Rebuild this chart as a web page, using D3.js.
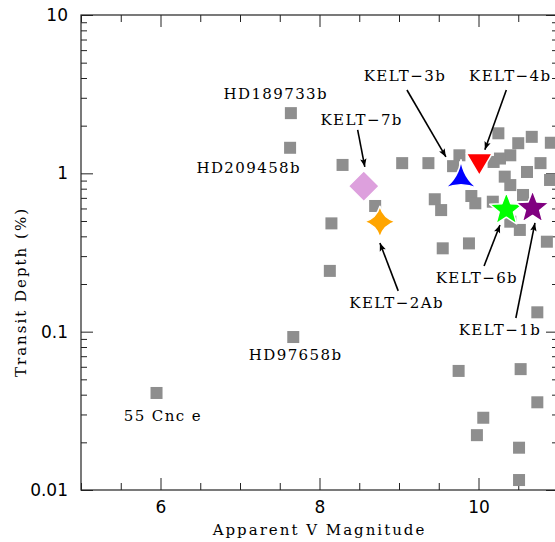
<!DOCTYPE html>
<html lang="en">
<head>
    <meta charset="UTF-8">
    <title>Transit depth vs V magnitude</title>
    <style>
        body { margin: 0; background: #fff; }
        .lbl { font-family: "DejaVu Serif", serif; font-size: 15px; letter-spacing: 1.4px; fill: #000; }
        .tick text { font-family: "DejaVu Sans", sans-serif; font-size: 17px; fill: #000; }
    </style>
</head>
<body>
    <div id="chart"></div>

    <script src="https://d3js.org/d3.v7.min.js"></script>
    <script>
        // other known transiting planets (grey squares)
        var magV  = [5.95, 7.67, 7.64, 7.63, 8.29, 8.15, 8.13, 8.70, 9.04, 9.37, 9.76, 9.68,
                     9.45, 9.53, 9.91, 9.96, 9.55, 9.88, 10.25, 10.50, 10.67, 10.91, 10.40, 10.27,
                     10.19, 10.78, 10.61, 10.33, 10.40, 10.56, 10.52, 10.40, 10.86, 10.18, 10.90,
                     10.74, 9.75, 10.53, 10.74, 10.06, 9.98, 10.51, 10.51];
        var depth = [0.041, 0.0925, 2.40, 1.45, 1.13, 0.483, 0.242, 0.622, 1.16, 1.16, 1.30, 1.11,
                     0.686, 0.586, 0.719, 0.647, 0.336, 0.361, 1.79, 1.55, 1.70, 1.56, 1.30, 1.24,
                     1.18, 1.16, 1.02, 0.953, 0.843, 0.73, 0.439, 0.495, 0.37, 0.662, 0.908,
                     0.1325, 0.0565, 0.058, 0.0358, 0.0286, 0.0222, 0.0185, 0.01156];

        // KELT planets
        var keltNames  = ["KELT-7b", "KELT-2Ab", "KELT-3b", "KELT-4b", "KELT-6b", "KELT-1b"];
        var keltMag    = [8.557, 8.76, 9.78, 10.01, 10.35, 10.68];
        var keltDepth  = [0.830, 0.495, 0.925, 1.138, 0.589, 0.604];
        var keltColors = ["#dda0dd", "#ffa500", "#0000ff", "#ff0000", "#00ff00", "#800080"];
        var keltShapes = ["diamond", "star4", "star3", "triDown", "star5", "star5"];

        // label text positions (data coords) and arrow tails/heads
        var labelMag   = [8.53, 8.97, 9.075, 10.40, 9.98, 10.27];
        var labelDepth = [2.17, 0.152, 4.12, 4.12, 0.218, 0.1023];
        var arrowFrom  = [[8.48, 1.88], [8.99, 0.181], [9.10, 3.36], [10.35, 3.36], [10.07, 0.26], [10.47, 0.122]];
        var arrowTo    = [[8.57, 1.10], [8.76, 0.363], [9.59, 1.27], [10.08, 1.41], [10.27, 0.472], [10.71, 0.486]];

        // plain text labels
        var otherNames = ["HD189733b", "HD209458b", "HD97658b", "55 Cnc e"];
        var otherMag   = [7.45, 7.11, 7.70, 6.03];
        var otherDepth = [3.17, 1.08, 0.0713, 0.0293];

        var xTicks = [6, 8, 10];
        var yTicks = [0.01, 0.1, 1, 10];

        var margin = { top: 15, left: 81 };
        var width = 477, height = 475;

        var x = d3.scaleLinear().domain([5, 11]).range([0, width]);
        var y = d3.scaleLog().domain([0.01, 10]).range([height, 0]);

        var svg = d3.select("#chart").append("svg")
            .attr("width", 555)
            .attr("height", 542);

        var g = svg.append("g")
            .attr("transform", "translate(" + margin.left + "," + margin.top + ")");

        // minor ticks
        var xMinor = d3.range(5, 11.01, 0.5).filter(function(d){ return d % 2 !== 0; });
        var yMinor = [];
        [0.01, 0.1, 1].forEach(function(p){
            for (var k = 2; k <= 9; k++) yMinor.push(p * k);
        });

        function styleAxis(sel) {
            sel.select(".domain").remove();
            sel.selectAll("line").style("stroke", "#222").style("stroke-width", 1);
        }

        // bottom
        g.append("g").attr("transform", "translate(0," + height + ")")
            .call(d3.axisBottom(x).tickValues(xTicks).tickFormat(d3.format("d")).tickSizeInner(-12).tickSizeOuter(0).tickPadding(11))
            .call(styleAxis);
        g.append("g").attr("transform", "translate(0," + height + ")")
            .call(d3.axisBottom(x).tickValues(xMinor).tickFormat("").tickSizeInner(-7).tickSizeOuter(0))
            .call(styleAxis);
        // top
        g.append("g")
            .call(d3.axisTop(x).tickValues(xTicks).tickFormat("").tickSizeInner(-12).tickSizeOuter(0))
            .call(styleAxis);
        g.append("g")
            .call(d3.axisTop(x).tickValues(xMinor).tickFormat("").tickSizeInner(-7).tickSizeOuter(0))
            .call(styleAxis);
        // left
        g.append("g")
            .call(d3.axisLeft(y).tickValues(yTicks).tickFormat(function(d){ return d >= 1 ? d3.format("d")(d) : String(d); })
                .tickSizeInner(-12).tickSizeOuter(0).tickPadding(13))
            .call(styleAxis);
        g.append("g")
            .call(d3.axisLeft(y).tickValues(yMinor).tickFormat("").tickSizeInner(-6).tickSizeOuter(0))
            .call(styleAxis);
        // right
        g.append("g").attr("transform", "translate(" + width + ",0)")
            .call(d3.axisRight(y).tickValues(yTicks).tickFormat("").tickSizeInner(-12).tickSizeOuter(0))
            .call(styleAxis);
        g.append("g").attr("transform", "translate(" + width + ",0)")
            .call(d3.axisRight(y).tickValues(yMinor).tickFormat("").tickSizeInner(-6).tickSizeOuter(0))
            .call(styleAxis);

        // frame
        g.append("rect")
            .attr("width", width).attr("height", height)
            .style("fill", "none").style("stroke", "#222").style("stroke-width", 1.2);

        // grey squares
        var sq = 12;
        g.selectAll("rect.pl")
            .data(d3.range(magV.length))
            .enter()
            .append("rect")
                .attr("class", "pl")
                .attr("x", function(i){ return x(magV[i]) - sq / 2; })
                .attr("y", function(i){ return y(depth[i]) - sq / 2; })
                .attr("width", sq).attr("height", sq)
                .style("fill", "#8e8e8e");

        // marker paths
        function starPath(n, rOut, rIn, rot) {
            var pts = [];
            for (var k = 0; k < 2 * n; k++) {
                var a = rot + k * Math.PI / n;
                var r = k % 2 === 0 ? rOut : rIn;
                pts.push([r * Math.cos(a), r * Math.sin(a)]);
            }
            return "M" + pts.join("L") + "Z";
        }
        // star with curved (concave) sides
        function curvedStar(n, rOut, rCtl, rot) {
            var p = "";
            for (var k = 0; k < n; k++) {
                var a = rot + k * 2 * Math.PI / n;
                var b = a + Math.PI / n;
                var c = a + 2 * Math.PI / n;
                if (k === 0) p += "M" + rOut * Math.cos(a) + "," + rOut * Math.sin(a);
                p += "Q" + rCtl * Math.cos(b) + "," + rCtl * Math.sin(b) + " " + rOut * Math.cos(c) + "," + rOut * Math.sin(c);
            }
            return p + "Z";
        }
        var shapes = {
            diamond: "M0,-15.5L15.5,0L0,15.5L-15.5,0Z",
            star4: curvedStar(4, 15.5, 5, -Math.PI / 2),
            star3: curvedStar(3, 19, 2.5, -Math.PI / 2),
            triDown: "M-13,-11L13,-11L0,11Z",
            star5: starPath(5, 17.5, 7.5, -Math.PI / 2)
        };

        g.selectAll("path.kelt")
            .data(d3.range(keltNames.length))
            .enter()
            .append("path")
                .attr("class", "kelt")
                .attr("d", function(i){ return shapes[keltShapes[i]]; })
                .attr("transform", function(i){ return "translate(" + x(keltMag[i]) + "," + y(keltDepth[i]) + ")"; })
                .style("fill", function(i){ return keltColors[i]; })
                .style("stroke", "#fff")
                .style("stroke-width", 1.5)
                .style("stroke-linejoin", "round");

        // arrows
        svg.append("defs").append("marker")
            .attr("id", "head")
            .attr("viewBox", "0 -5 10 10")
            .attr("refX", 10).attr("refY", 0)
            .attr("markerWidth", 11).attr("markerHeight", 8)
            .attr("markerUnits", "userSpaceOnUse")
            .attr("orient", "auto")
            .append("path")
                .attr("d", "M0,-4L10,0L0,4L2,0Z")
                .style("fill", "#000");

        g.selectAll("line.arrow")
            .data(d3.range(arrowFrom.length))
            .enter()
            .append("line")
                .attr("class", "arrow")
                .attr("x1", function(i){ return x(arrowFrom[i][0]); })
                .attr("y1", function(i){ return y(arrowFrom[i][1]); })
                .attr("x2", function(i){ return x(arrowTo[i][0]); })
                .attr("y2", function(i){ return y(arrowTo[i][1]); })
                .style("stroke", "#000")
                .style("stroke-width", 1.6)
                .attr("marker-end", "url(#head)");

        // labels
        g.selectAll("text.kl")
            .data(d3.range(keltNames.length))
            .enter()
            .append("text")
                .attr("class", "lbl")
                .attr("x", function(i){ return x(labelMag[i]); })
                .attr("y", function(i){ return y(labelDepth[i]); })
                .attr("dy", "0.35em")
                .attr("text-anchor", "middle")
                .text(function(i){ return keltNames[i].replace("-", "\u2212"); });

        g.selectAll("text.ol")
            .data(d3.range(otherNames.length))
            .enter()
            .append("text")
                .attr("class", "lbl")
                .attr("x", function(i){ return x(otherMag[i]); })
                .attr("y", function(i){ return y(otherDepth[i]); })
                .attr("dy", "0.35em")
                .attr("text-anchor", "middle")
                .text(function(i){ return otherNames[i]; });

        // axis titles
        svg.append("text")
            .attr("class", "lbl")
            .attr("x", margin.left + x(8))
            .attr("y", 535)
            .attr("text-anchor", "middle")
            .style("letter-spacing", "2px")
            .text("Apparent V Magnitude");

        svg.append("text")
            .attr("class", "lbl")
            .attr("transform", "translate(26,292) rotate(-90)")
            .attr("text-anchor", "middle")
            .style("letter-spacing", "2px")
            .text("Transit Depth (%)");
    </script>
</body>
</html>
